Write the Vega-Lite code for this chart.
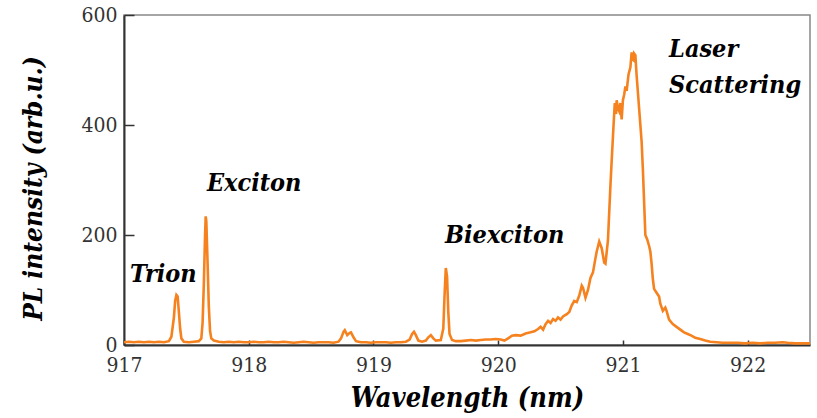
{
  "$schema": "https://vega.github.io/schema/vega-lite/v6.json",
  "width": 686,
  "height": 330,
  "autosize": "none",
  "padding": {"left": 124, "top": 15, "right": 7, "bottom": 73},
  "background": "white",
  "config": {
    "view": {"stroke": "#888888", "strokeWidth": 1.5},
    "axis": {"grid": false}
  },
  "layer": [
    {
      "data": {"values": [
        {"x":917.00,"y":5},{"x":917.04,"y":6},{"x":917.08,"y":5},{"x":917.12,"y":6},{"x":917.16,"y":5},{"x":917.20,"y":6},{"x":917.24,"y":5},{"x":917.28,"y":6},{"x":917.32,"y":5},{"x":917.36,"y":7},
        {"x":917.38,"y":15},{"x":917.40,"y":50},{"x":917.41,"y":80},{"x":917.42,"y":91},{"x":917.43,"y":88},{"x":917.44,"y":60},{"x":917.45,"y":30},{"x":917.46,"y":12},{"x":917.48,"y":6},{"x":917.52,"y":5},{"x":917.56,"y":6},{"x":917.60,"y":7},{"x":917.62,"y":12},
        {"x":917.63,"y":40},{"x":917.64,"y":110},{"x":917.65,"y":200},{"x":917.655,"y":234},{"x":917.66,"y":225},{"x":917.67,"y":150},{"x":917.68,"y":70},{"x":917.69,"y":25},{"x":917.70,"y":12},{"x":917.72,"y":8},{"x":917.76,"y":6},
        {"x":917.80,"y":5},{"x":917.84,"y":6},{"x":917.88,"y":5},{"x":917.92,"y":6},{"x":917.96,"y":5},{"x":918.00,"y":5},{"x":918.04,"y":6},{"x":918.08,"y":5},{"x":918.12,"y":5},{"x":918.16,"y":6},{"x":918.20,"y":5},{"x":918.24,"y":5},{"x":918.28,"y":6},{"x":918.32,"y":5},{"x":918.36,"y":4},{"x":918.40,"y":5},{"x":918.44,"y":6},{"x":918.48,"y":5},{"x":918.52,"y":4},{"x":918.56,"y":5},{"x":918.60,"y":5},{"x":918.64,"y":5},{"x":918.68,"y":4},{"x":918.72,"y":6},
        {"x":918.74,"y":12},{"x":918.76,"y":24},{"x":918.77,"y":27},{"x":918.79,"y":18},{"x":918.81,"y":22},{"x":918.82,"y":23},{"x":918.84,"y":14},{"x":918.86,"y":7},{"x":918.90,"y":5},{"x":918.94,"y":5},{"x":918.98,"y":4},{"x":919.02,"y":5},{"x":919.06,"y":5},{"x":919.10,"y":5},{"x":919.14,"y":4},{"x":919.18,"y":5},{"x":919.22,"y":5},{"x":919.26,"y":6},
        {"x":919.29,"y":10},{"x":919.31,"y":20},{"x":919.325,"y":24},{"x":919.34,"y":18},{"x":919.36,"y":8},{"x":919.39,"y":6},{"x":919.42,"y":8},{"x":919.44,"y":14},{"x":919.46,"y":18},{"x":919.48,"y":12},{"x":919.50,"y":8},{"x":919.54,"y":9},
        {"x":919.56,"y":30},{"x":919.57,"y":90},{"x":919.58,"y":140},{"x":919.59,"y":125},{"x":919.60,"y":60},{"x":919.61,"y":20},{"x":919.63,"y":9},{"x":919.66,"y":7},{"x":919.70,"y":7},{"x":919.74,"y":8},{"x":919.78,"y":9},{"x":919.82,"y":8},{"x":919.86,"y":9},{"x":919.90,"y":10},{"x":919.94,"y":10},{"x":919.98,"y":11},{"x":920.02,"y":10},{"x":920.05,"y":8},
        {"x":920.08,"y":12},{"x":920.11,"y":17},{"x":920.14,"y":18},{"x":920.18,"y":17},{"x":920.22,"y":21},{"x":920.26,"y":23},{"x":920.29,"y":25},{"x":920.32,"y":29},{"x":920.34,"y":33},{"x":920.36,"y":28},{"x":920.38,"y":38},{"x":920.40,"y":44},{"x":920.42,"y":40},{"x":920.44,"y":47},{"x":920.46,"y":44},{"x":920.48,"y":50},{"x":920.50,"y":46},{"x":920.52,"y":52},{"x":920.55,"y":56},{"x":920.57,"y":60},{"x":920.59,"y":72},{"x":920.61,"y":80},{"x":920.63,"y":78},{"x":920.65,"y":90},{"x":920.67,"y":108},{"x":920.68,"y":104},{"x":920.70,"y":86},{"x":920.72,"y":100},{"x":920.74,"y":122},{"x":920.76,"y":132},{"x":920.78,"y":158},{"x":920.79,"y":170},{"x":920.81,"y":188},{"x":920.83,"y":176},{"x":920.85,"y":150},{"x":920.86,"y":148},{"x":920.88,"y":190},
        {"x":920.90,"y":290},{"x":920.91,"y":335},{"x":920.925,"y":400},{"x":920.935,"y":440},{"x":920.945,"y":420},{"x":920.95,"y":445},{"x":920.96,"y":430},{"x":920.97,"y":425},{"x":920.98,"y":440},{"x":920.99,"y":410},{"x":921.00,"y":445},{"x":921.01,"y":455},{"x":921.02,"y":470},{"x":921.03,"y":462},{"x":921.045,"y":492},{"x":921.06,"y":505},{"x":921.07,"y":532},{"x":921.075,"y":520},{"x":921.085,"y":518},{"x":921.09,"y":530},{"x":921.10,"y":527},{"x":921.11,"y":490},{"x":921.12,"y":460},{"x":921.135,"y":415},{"x":921.15,"y":370},{"x":921.16,"y":320},{"x":921.17,"y":260},{"x":921.18,"y":200},{"x":921.195,"y":192},{"x":921.21,"y":180},{"x":921.22,"y":170},{"x":921.23,"y":148},{"x":921.24,"y":120},{"x":921.25,"y":102},{"x":921.27,"y":95},{"x":921.29,"y":88},{"x":921.30,"y":75},{"x":921.32,"y":62},{"x":921.34,"y":68},{"x":921.35,"y":62},{"x":921.37,"y":46},{"x":921.40,"y":38},{"x":921.43,"y":33},{"x":921.46,"y":28},{"x":921.49,"y":23},{"x":921.52,"y":20},{"x":921.55,"y":17},{"x":921.58,"y":13},{"x":921.62,"y":11},{"x":921.66,"y":8},{"x":921.70,"y":6},{"x":921.75,"y":5},{"x":921.80,"y":4},{"x":921.86,"y":4},{"x":921.92,"y":4},{"x":921.98,"y":3},{"x":922.04,"y":4},{"x":922.10,"y":3},{"x":922.16,"y":4},{"x":922.22,"y":4},{"x":922.28,"y":5},{"x":922.32,"y":4},{"x":922.38,"y":3},{"x":922.44,"y":3},{"x":922.50,"y":3}
      ]},
      "mark": {"type": "line", "color": "#F5821F", "strokeWidth": 2.6, "clip": true},
      "encoding": {
        "x": {
          "field": "x", "type": "quantitative",
          "scale": {"domain": [917, 922.5], "nice": false, "zero": false},
          "axis": {
            "title": "Wavelength (nm)",
            "values": [917, 918, 919, 920, 921, 922],
            "format": "d",
            "domainColor": "#333333", "domainWidth": 2,
            "tickColor": "#333333", "tickWidth": 1.5, "tickSize": -5,
            "labelFont": "DejaVu Serif Condensed", "labelFontSize": 21, "labelColor": "#333333",
            "labelPadding": 14, "labelDx": 7, "labelFlush": false,
            "titleFont": "DejaVu Serif Condensed", "titleFontSize": 27, "titleFontWeight": "bold", "titleFontStyle": "italic",
            "titleColor": "#000000", "titlePadding": 10
          }
        },
        "y": {
          "field": "y", "type": "quantitative",
          "scale": {"domain": [0, 600], "nice": false},
          "axis": {
            "title": "PL intensity (arb.u.)",
            "values": [0, 200, 400, 600],
            "domainColor": "#333333", "domainWidth": 2,
            "tickColor": "#333333", "tickWidth": 1.5, "tickSize": -10,
            "labelFont": "DejaVu Serif Condensed", "labelFontSize": 21, "labelColor": "#333333",
            "labelPadding": 17,
            "titleFont": "DejaVu Serif Condensed", "titleFontSize": 26, "titleFontWeight": "bold", "titleFontStyle": "italic",
            "titleColor": "#000000", "titlePadding": 34, "titleY": 173
          }
        }
      }
    },
    {
      "data": {"values": [
        {"x": 917.048, "y": 114.5, "t": "Trion"},
        {"x": 917.665, "y": 280, "t": "Exciton"},
        {"x": 919.574, "y": 185.5, "t": "Biexciton"},
        {"x": 921.37, "y": 523.6, "t": "Laser"},
        {"x": 921.37, "y": 458, "t": "Scattering"}
      ]},
      "mark": {"type": "text", "align": "left", "baseline": "alphabetic", "font": "DejaVu Serif Condensed", "fontSize": 25, "fontWeight": "bold", "fontStyle": "italic", "color": "#000000"},
      "encoding": {
        "x": {"field": "x", "type": "quantitative"},
        "y": {"field": "y", "type": "quantitative"},
        "text": {"field": "t"}
      }
    }
  ]
}
